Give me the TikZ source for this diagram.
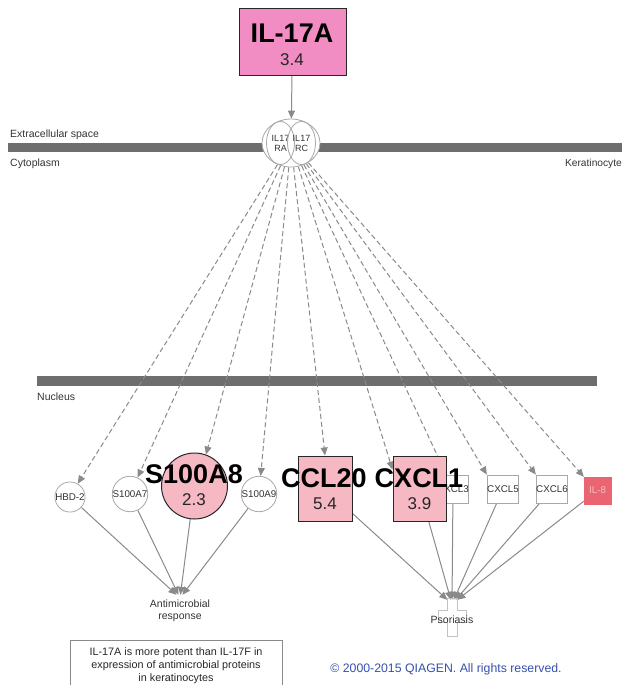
\documentclass[tikz,border=0pt]{standalone}
\usepackage{fontspec}
\setmainfont{Liberation Sans}
\usetikzlibrary{arrows.meta,shapes.geometric,backgrounds}
\definecolor{membr}{HTML}{6E6E6E}
\definecolor{lgray}{HTML}{8A8A8A}
\definecolor{ngray}{HTML}{A8A8A8}
\definecolor{ilpink}{HTML}{F18DC3}
\definecolor{lpink}{HTML}{F6B8C2}
\definecolor{ilred}{HTML}{EA6571}
\definecolor{iltxt}{HTML}{F6C0C6}
\definecolor{qblue}{HTML}{3550AE}
\begin{document}
\begin{tikzpicture}[x=1pt,y=-1pt,
  lbl/.style={font=\fontsize{10.5}{12}\selectfont, text=black!80, inner sep=0pt},
  gnode/.style={draw=ngray, fill=white, line width=0.8pt, text=black!80},
  smc/.style={gnode, circle, minimum size=29pt, inner sep=0pt, font=\fontsize{9.8}{11}\selectfont},
  smb/.style={gnode, rectangle, minimum size=28pt, inner sep=0pt, font=\fontsize{9.8}{11}\selectfont},
  dasharr/.style={draw=lgray, line width=1pt, dash pattern=on 5pt off 3pt, -{Triangle[length=8pt,width=7pt]}},
  solarr/.style={draw=lgray, line width=1pt, -{Triangle[length=8pt,width=7pt]}},
  bigtxt/.style={font=\fontsize{27}{27}\bfseries\selectfont, inner sep=0pt},
  valtxt/.style={font=\fontsize{17}{17}\selectfont, text=black!85, inner sep=0pt},
  bignode/.style={draw=black!85, line width=1pt, fill=lpink, inner sep=0pt},
  recpart/.style={draw=ngray, line width=0.8pt, ellipse, minimum width=28pt, minimum height=43pt, inner sep=0pt,
      align=center, font=\fontsize{9}{10}\selectfont, text=black!80},
]
\useasboundingbox (0,0) rectangle (634,685);
\clip (0,0) rectangle (634,685);

% region labels
\node[lbl, anchor=base west] (ecs) at (10,137) {Extracellular space};
\node[lbl, anchor=base west] (cyto) at (10,166) {Cytoplasm};
\node[lbl, anchor=base east, font=\fontsize{10.2}{12}\selectfont] (kera) at (622,166) {Keratinocyte};
\node[lbl, anchor=base west] (nuc) at (37,400) {Nucleus};

% IL-17A
\node[draw=black!85, line width=1pt, fill=ilpink, minimum width=107pt, minimum height=66pt] (il17a) at (292.5,42) {};
\node[bigtxt] (il17atxt) at (292,33) {IL-17A};
\node[valtxt] (il17aval) at (292,60) {3.4};

% receptor
\node[gnode, ellipse, minimum width=58pt, minimum height=48pt, inner sep=0pt] (rec) at (291,143) {};
\node[recpart] (ra) at (280.5,143) {IL17\\RA};
\node[recpart] (rc) at (301.5,143) {IL17\\RC};

% targets
\node[smc] (hbd) at (70,497) {HBD-2};
\node[smc] (s7) at (130,494) {S100A7};
\node[bignode, circle, minimum size=66pt] (s8) at (194.5,486) {};
\node[smc] (s9) at (259,494) {S100A9};
\node[bignode, minimum width=54pt, minimum height=65pt] (ccl20) at (325,488.5) {};
\node[smb] (cxcl3) at (453,489) {CXCL3};
\node[bignode, minimum width=53pt, minimum height=65pt] (cxcl1) at (419.5,488.5) {};
\node[smb] (cxcl5) at (503,489) {CXCL5};
\node[smb] (cxcl6) at (552,489) {CXCL6};
\node[draw=ilred, fill=ilred, minimum size=27pt, inner sep=0pt, font=\fontsize{9.8}{11}\selectfont, text=iltxt] (il8) at (597.5,490.5) {IL-8};

% big labels
\node[bigtxt] (s8txt) at (194,474) {S100A8};
\node[valtxt] (s8val) at (194,500) {2.3};
\node[bigtxt] (ccl20txt) at (324,478) {CCL20};
\node[valtxt] (ccl20val) at (325,503.5) {5.4};
\node[bigtxt] (cxcl1txt) at (419,478) {CXCL1};
\node[valtxt] (cxcl1val) at (419.5,503.5) {3.9};

% functions
\node[inner sep=0pt, minimum width=26pt, minimum height=6pt] (amr) at (180,598) {};
\node[lbl, align=center, font=\fontsize{10.5}{12}\selectfont] (amrtxt) at (180,611) {Antimicrobial\\response};
\draw[ngray!70, line width=0.6pt] (447,598) -- (457,598) -- (457,610) -- (466,610) -- (466,622) -- (457,622)
   -- (457,636) -- (447,636) -- (447,622) -- (438,622) -- (438,610) -- (447,610) -- cycle;
\node[inner sep=0pt, minimum width=24pt, minimum height=8pt] (pso) at (452,604) {};
\node[lbl, font=\fontsize{10.5}{12}\selectfont] (psotxt) at (452,620) {Psoriasis};

% note and copyright
\node[draw=lgray, line width=0.8pt, minimum width=212pt, minimum height=52pt, align=center,
      font=\fontsize{10.8}{13}\selectfont, text=black!85] (note) at (176,666) {IL-17A is more potent than IL-17F in\\expression of antimicrobial proteins\\in keratinocytes};
\node[font=\fontsize{12.3}{14}\selectfont, text=qblue] (copy) at (446,669) {© 2000-2015 QIAGEN. All rights reserved.};

\begin{pgfonlayer}{background}
\fill[membr] (8,143) rectangle (622,152);
\fill[membr] (37,376) rectangle (597,386);
\draw[solarr] (il17a) -- (rec);
\draw[dasharr] (rec) -- (hbd.60);
\draw[dasharr] (rec) -- (s7);
\draw[dasharr] (rec) -- (s8.70);
\draw[dasharr] (rec) -- (s9);
\draw[dasharr] (rec) -- (ccl20.north);
\draw[dasharr] (rec) -- (cxcl1.145);
\draw[dasharr] (rec) -- (cxcl3);
\draw[dasharr] (rec) -- (cxcl5.north west);
\draw[dasharr] (rec) -- (cxcl6.north west);
\draw[dasharr] (rec) -- (il8.north west);
\draw[solarr] (hbd) -- (amr);
\draw[solarr] (s7) -- (amr);
\draw[solarr] (s8) -- (amr);
\draw[solarr] (s9) -- (amr);
\draw[solarr] (ccl20) -- (pso);
\draw[solarr] (cxcl1) -- (pso);
\draw[solarr] (cxcl3) -- (pso);
\draw[solarr] (cxcl5) -- (pso);
\draw[solarr] (cxcl6) -- (pso);
\draw[solarr] (il8) -- (pso);
\end{pgfonlayer}
\end{tikzpicture}
\end{document}
